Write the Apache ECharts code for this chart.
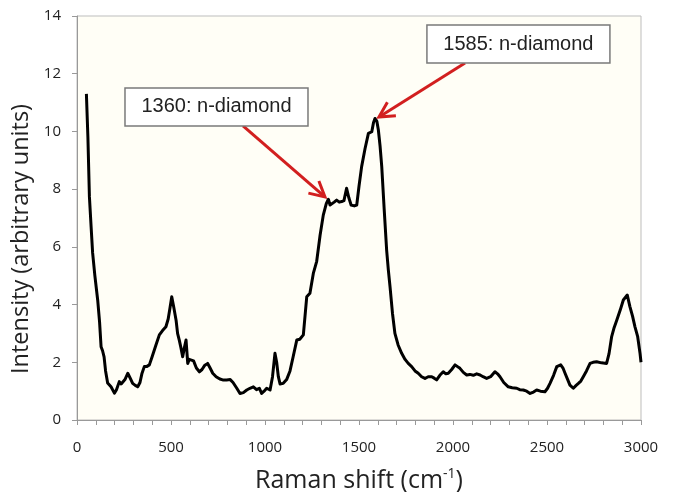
<!DOCTYPE html>
<html>
<head>
<meta charset="utf-8">
<script src="https://cdn.jsdelivr.net/npm/echarts@6/dist/echarts.min.js"></script>
<style>html,body{margin:0;padding:0;background:#fff;}#c{width:675px;height:492px;}</style>
</head>
<body>
<div id="c"></div>
<script>
var ramanShift = [50,58,66,75,83,95,110,120,128,136,144,152,163,172,181,190,199,210,225,235,243,255,270,283,296,310,323,335,345,358,370,385,400,420,438,455,473,485,495,504,515,527,535,544,553,562,571,580,589,597,606,620,635,651,665,680,695,708,722,740,760,775,796,815,830,850,867,885,903,920,938,955,970,982,995,1009,1027,1040,1053,1062,1071,1080,1097,1115,1133,1150,1169,1185,1204,1222,1239,1257,1275,1293,1310,1326,1337,1346,1355,1368,1381,1395,1408,1420,1434,1446,1458,1475,1488,1500,1514,1532,1550,1568,1577,1585,1595,1603,1612,1621,1634,1647,1656,1665,1678,1691,1708,1727,1745,1762,1780,1798,1815,1833,1851,1868,1887,1900,1913,1930,1948,1962,1975,1993,2011,2024,2037,2055,2073,2090,2108,2126,2144,2160,2179,2200,2223,2237,2250,2270,2294,2315,2339,2355,2374,2392,2410,2428,2445,2465,2489,2503,2516,2535,2552,2573,2585,2596,2610,2622,2640,2655,2667,2680,2693,2710,2729,2745,2764,2790,2817,2830,2844,2857,2871,2889,2906,2927,2941,2955,2968,2982,2995,3000];
var intensity = [11.3,9.8,7.74,6.7,5.8,5.0,4.16,3.4,2.54,2.4,2.19,1.7,1.28,1.3,1.15,1.2,0.93,1.05,1.33,1.25,1.28,1.4,1.62,1.45,1.27,1.2,1.15,1.3,1.6,1.85,1.85,1.91,2.2,2.6,2.95,3.1,3.23,3.5,3.9,4.27,3.9,3.46,3.0,2.77,2.5,2.19,2.5,2.77,1.96,2.1,2.14,2.05,1.8,1.67,1.75,1.9,1.96,1.8,1.62,1.5,1.42,1.39,1.39,1.4,1.3,1.1,0.92,0.95,1.04,1.1,1.15,1.05,1.1,0.92,1.0,1.1,1.04,1.5,2.31,2.0,1.5,1.25,1.27,1.4,1.7,2.2,2.77,2.8,2.95,4.27,4.39,5.08,5.5,6.4,7.1,7.5,7.65,7.45,7.5,7.55,7.62,7.55,7.57,7.6,8.03,7.7,7.45,7.42,7.45,8.1,8.78,9.4,9.93,9.99,10.3,10.45,10.35,10.05,9.5,8.78,7.3,5.89,5.2,4.62,3.7,3.0,2.6,2.31,2.1,1.96,1.85,1.7,1.62,1.5,1.44,1.5,1.5,1.45,1.39,1.55,1.67,1.6,1.62,1.75,1.91,1.85,1.79,1.65,1.56,1.58,1.55,1.6,1.56,1.5,1.44,1.5,1.67,1.6,1.5,1.3,1.15,1.12,1.1,1.05,1.04,1.0,0.92,0.97,1.04,1.0,0.98,1.1,1.27,1.55,1.85,1.91,1.8,1.62,1.4,1.21,1.1,1.2,1.27,1.35,1.5,1.7,1.96,2.0,2.02,1.98,1.96,2.3,2.89,3.2,3.46,3.8,4.16,4.33,3.93,3.6,3.23,2.9,2.3,2.0];
var annotationLabels = ['1360: n-diamond', '1585: n-diamond'];
var annotationBoxAt = [[742, 10.85], [2348, 13.03]];
var annotationTail = [[883, 10.19], [2064, 12.37]];
var annotationTip = [[1319, 7.73], [1606, 10.5]];

var chart = echarts.init(document.getElementById('c'));
var pts = ramanShift.map(function (x, i) { return [x, intensity[i]]; });
var axisFont = 'Open Sans';
chart.setOption({
  animation: false,
  grid: { left: 77, right: 34, top: 16, bottom: 72, containLabel: false, outerBoundsMode: 'none',
    show: true, backgroundColor: '#FFFEF6', borderColor: '#bdbdbd', borderWidth: 1 },
  xAxis: {
    type: 'value', min: 0, max: 3000, interval: 500,
    name: 'Raman shift (cm{sup|-1})', nameLocation: 'middle', nameGap: 47,
    nameTextStyle: { fontFamily: axisFont, fontSize: 25, color: '#222',
      rich: { sup: { fontFamily: axisFont, fontSize: 14, color: '#222', padding: [0, 0, 13, 0] } } },
    axisLine: { lineStyle: { color: '#999', width: 1 } },
    axisTick: { show: true, inside: false, length: 5, lineStyle: { color: '#999' } },
    minorTick: { show: true, splitNumber: 5, length: 5, lineStyle: { color: '#999' } },
    splitLine: { show: false },
    axisLabel: { fontFamily: axisFont, fontSize: 15, color: '#222', margin: 20,
      formatter: function (v) { return String(v); } }
  },
  yAxis: {
    type: 'value', min: 0, max: 14, interval: 2,
    name: 'Intensity (arbitrary units)', nameLocation: 'middle', nameGap: 40,
    nameTextStyle: { fontFamily: axisFont, fontSize: 23.5, color: '#222', padding: [0, 42, 0, 0] },
    axisLine: { show: true, lineStyle: { color: '#999', width: 1 } },
    axisTick: { show: true, inside: false, length: 5, lineStyle: { color: '#999' } },
    splitLine: { show: false },
    axisLabel: { fontFamily: axisFont, fontSize: 15, color: '#222', margin: 16 }
  },
  series: [{
    type: 'line', data: pts, showSymbol: false, symbol: 'none',
    lineStyle: { color: '#000', width: 3, join: 'round' }
  }]
});

function buildGraphics() {
  var els = [];
  for (var i = 0; i < annotationLabels.length; i++) {
    var c = chart.convertToPixel({ gridIndex: 0 }, annotationBoxAt[i]);
    var t0 = chart.convertToPixel({ gridIndex: 0 }, annotationTail[i]);
    var t1 = chart.convertToPixel({ gridIndex: 0 }, annotationTip[i]);
    var dx = t1[0] - t0[0], dy = t1[1] - t0[1];
    var len = Math.sqrt(dx * dx + dy * dy);
    var ux = dx / len, uy = dy / len;
    var hl = 15, hw = 8;
    var bx = t1[0] - ux * hl, by = t1[1] - uy * hl;
    els.push({ type: 'line', shape: { x1: t0[0], y1: t0[1], x2: t1[0] - ux * 2, y2: t1[1] - uy * 2 },
      style: { stroke: '#D21F1F', lineWidth: 3 }, z: 10 });
    els.push({ type: 'polyline', shape: { points: [[bx - uy * hw, by + ux * hw], [t1[0], t1[1]], [bx + uy * hw, by - ux * hw]] },
      style: { stroke: '#D21F1F', lineWidth: 3, fill: null, lineJoin: 'miter' }, z: 10 });
    els.push({ type: 'rect', shape: { x: c[0] - 91.5, y: c[1] - 19, width: 183, height: 38 },
      style: { fill: '#fff', stroke: '#7a7a7a', lineWidth: 1.5 }, z: 11 });
    els.push({ type: 'text', x: c[0], y: c[1],
      style: { text: annotationLabels[i], fontFamily: 'Liberation Sans', fontSize: 20, fill: '#222', align: 'center', verticalAlign: 'middle' }, z: 12 });
  }
  chart.setOption({ graphic: { elements: els } });
}
buildGraphics();
</script>
</body>
</html>
